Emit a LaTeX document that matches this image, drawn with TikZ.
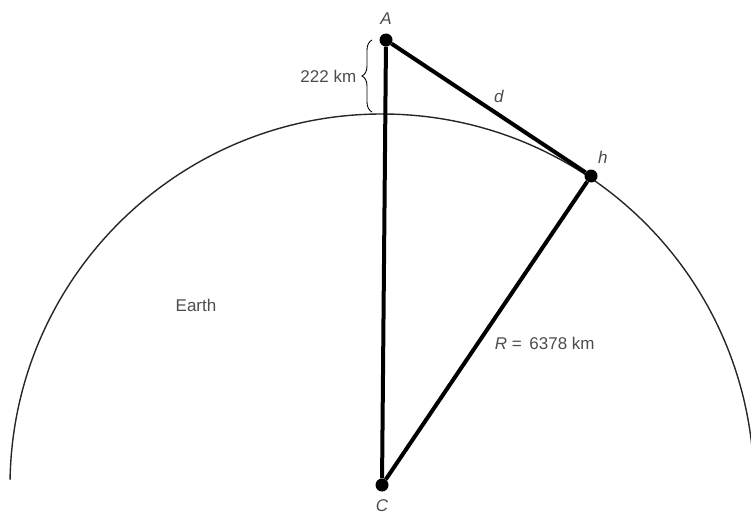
\documentclass[tikz,border=0pt]{standalone}
\usepackage{fontspec}
\setmainfont{Liberation Sans}
\usepackage{xcolor}
\usetikzlibrary{positioning, calc, decorations.pathreplacing}

\begin{document}
\begin{tikzpicture}[x=1pt, y=-1pt,
    every node/.style={text=black!70, font=\fontsize{17}{20}\selectfont},
    dot/.style={circle, fill=black, minimum size=13pt, inner sep=0pt},
    side/.style={line width=4pt},
    lbl/.style={inner sep=0pt}]
    \useasboundingbox (0,0) rectangle (751,516);
    % earth surface
    \draw[line width=1.4pt, black!85] (382,486) ++(181:372) arc (181:354:372);
    \node[dot, label={[lbl, label distance=9pt]above:\textit{A}}] (A) at (386,40) {};
    \node[dot, label={[lbl, label distance=8pt]below:\textit{C}}] (C) at (382,485) {};
    \node[dot, label={[lbl, label distance=7pt]60:\textit{h}}] (h) at (591,176) {};
    \draw[side] (A) -- (C);
    \draw[side] (A) -- node[above right=5pt, lbl] {\textit{d}} (h);
    \draw[side] (h) -- node[pos=0.544, anchor=west, xshift=12pt] {\textit{R} = \,6378 km} (C);
    \draw[line width=0.9pt, decorate, decoration={brace, amplitude=10pt}]
        (372,112) -- node[left=12pt] (height) {222 km} (372,40);
    \node (earth) at (196,305) {Earth};
\end{tikzpicture}
\end{document}
